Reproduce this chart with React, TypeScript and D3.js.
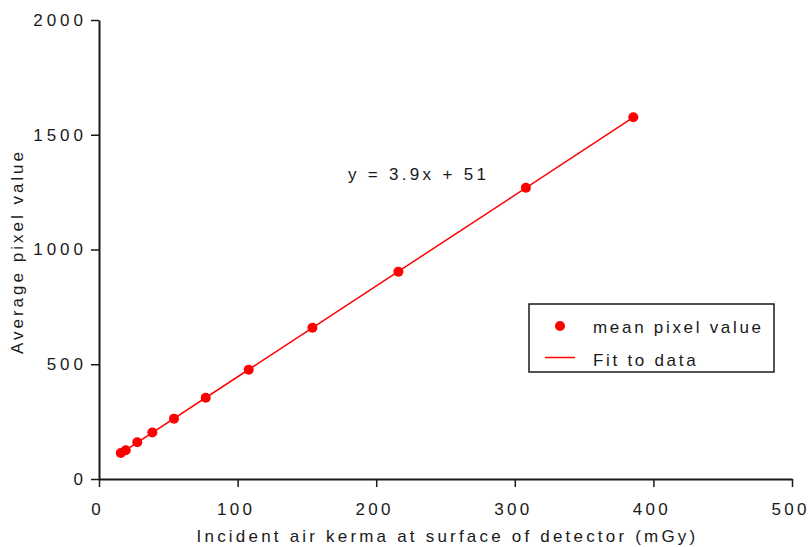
import * as d3 from "d3";
import { useEffect, useRef } from "react";

// measured points (air kerma in mGy, mean pixel value)
const kerma = [15.7, 19.3, 27.6, 38.5, 54.1, 77, 108, 154, 216, 308, 385.5];
const pixelValue = [113, 125, 160, 203, 263, 354, 476, 659, 903, 1269, 1576];

const xTicks = [0, 100, 200, 300, 400, 500];
const yTicks = [0, 500, 1000, 1500, 2000];

const equationLabel = "y = 3.9x + 51";
const legendLabels = ["mean pixel value", "Fit to data"];

const width = 810;
const height = 547;
const margin = { left: 99, right: 18, top: 20, bottom: 68 };
const font = "'Liberation Sans', Arial, sans-serif";
const red = "#ff0000";
const ink = "#1a1a1a";

export default function App() {
  const ref = useRef<SVGSVGElement>(null);

  useEffect(() => {
    const svg = d3.select(ref.current);
    svg.selectAll("*").remove();

    const x = d3.scaleLinear().domain([0, 500]).range([margin.left, width - margin.right]);
    const y = d3.scaleLinear().domain([0, 2000]).range([height - margin.bottom, margin.top]);

    // least squares fit over the points
    const mx = d3.mean(kerma)!;
    const my = d3.mean(pixelValue)!;
    const slope =
      d3.sum(kerma, (k, i) => (k - mx) * (pixelValue[i] - my)) /
      d3.sum(kerma, (k) => (k - mx) ** 2);
    const intercept = my - slope * mx;
    const xExt = d3.extent(kerma) as [number, number];

    // x axis
    const gx = svg
      .append("g")
      .attr("transform", `translate(0,${y(0)})`)
      .call(
        d3.axisBottom(x).tickValues(xTicks).tickFormat(d3.format("d")).tickSize(8).tickPadding(16).tickSizeOuter(0)
      );
    gx.select(".domain").attr("stroke", ink).attr("stroke-width", 2);
    gx.selectAll(".tick line").attr("stroke", ink).attr("stroke-width", 1.5);
    gx.selectAll("text")
      .attr("font-family", font)
      .attr("font-size", 17)
      .attr("letter-spacing", 3.3)
      .attr("dx", -2)
      .attr("fill", ink);

    // y axis
    const gy = svg
      .append("g")
      .attr("transform", `translate(${x(0)},0)`)
      .call(
        d3.axisLeft(y).tickValues(yTicks).tickFormat(d3.format("d")).tickSize(8).tickPadding(4).tickSizeOuter(0)
      );
    gy.select(".domain").attr("stroke", ink).attr("stroke-width", 2);
    gy.selectAll(".tick line").attr("stroke", ink).attr("stroke-width", 1.5);
    gy.selectAll("text")
      .attr("font-family", font)
      .attr("font-size", 17)
      .attr("letter-spacing", 4)
      .attr("fill", ink);

    // axis titles
    svg
      .append("text")
      .attr("x", (x(0) + x(500)) / 2 + 2)
      .attr("y", 542)
      .attr("text-anchor", "middle")
      .attr("font-family", font)
      .attr("font-size", 17)
      .attr("letter-spacing", 3.2)
      .attr("fill", ink)
      .text("Incident air kerma at surface of detector (mGy)");

    svg
      .append("text")
      .attr("transform", `translate(23,${(y(0) + y(2000)) / 2 + 2}) rotate(-90)`)
      .attr("text-anchor", "middle")
      .attr("font-family", font)
      .attr("font-size", 17)
      .attr("letter-spacing", 3)
      .attr("fill", ink)
      .text("Average pixel value");

    // fit line
    svg
      .append("line")
      .attr("x1", x(xExt[0]))
      .attr("y1", y(slope * xExt[0] + intercept))
      .attr("x2", x(xExt[1]))
      .attr("y2", y(slope * xExt[1] + intercept))
      .attr("stroke", red)
      .attr("stroke-width", 1.5);

    // points
    svg
      .selectAll(".pt")
      .data(kerma)
      .enter()
      .append("circle")
      .attr("class", "pt")
      .attr("cx", (d) => x(d))
      .attr("cy", (d, i) => y(pixelValue[i]))
      .attr("r", 5)
      .attr("fill", red);

    // equation
    svg
      .append("text")
      .attr("x", 348)
      .attr("y", 180)
      .attr("font-family", font)
      .attr("font-size", 17)
      .attr("letter-spacing", 3.3)
      .attr("fill", ink)
      .text(equationLabel);

    // legend
    const lg = svg.append("g").attr("transform", "translate(529,304)");
    lg.append("rect")
      .attr("width", 245)
      .attr("height", 68)
      .attr("fill", "white")
      .attr("stroke", ink)
      .attr("stroke-width", 1.5);
    lg.append("circle").attr("cx", 31).attr("cy", 22).attr("r", 5).attr("fill", red);
    lg.append("line")
      .attr("x1", 16)
      .attr("x2", 46)
      .attr("y1", 53.5)
      .attr("y2", 53.5)
      .attr("stroke", red)
      .attr("stroke-width", 1.5);
    lg.selectAll(".lt")
      .data(legendLabels)
      .enter()
      .append("text")
      .attr("class", "lt")
      .attr("x", 64)
      .attr("y", (d, i) => 29 + i * 33)
      .attr("font-family", font)
      .attr("font-size", 17)
      .attr("letter-spacing", 2.7)
      .attr("fill", ink)
      .text((d) => d);
  }, []);

  return (
    <div style={{ position: "absolute", left: 0, top: 0 }}>
      <svg ref={ref} width={width} height={height} style={{ display: "block", background: "white" }} />
    </div>
  );
}
